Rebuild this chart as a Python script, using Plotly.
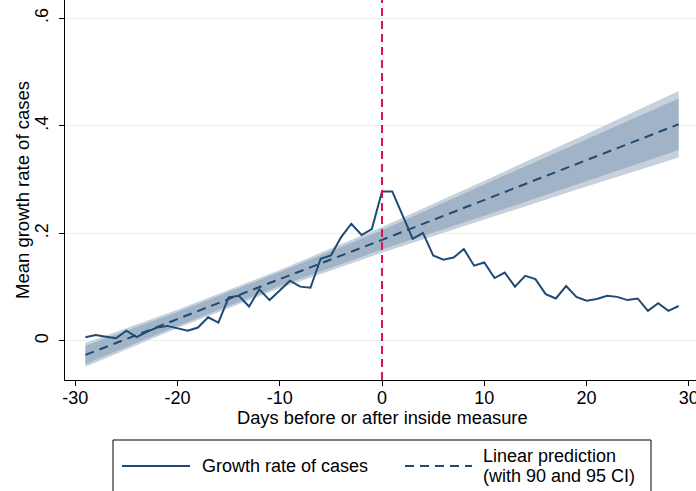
import plotly.graph_objects as go

# Days relative to the inside measure and mean growth rate of cases
days = list(range(-29, 30))
growth = [
    0.007, 0.011, 0.008, 0.005, 0.019, 0.007, 0.017, 0.025, 0.028, 0.024,
    0.019, 0.025, 0.044, 0.034, 0.081, 0.084, 0.064, 0.096, 0.076, 0.094,
    0.112, 0.101, 0.099, 0.153, 0.159, 0.193, 0.218, 0.197, 0.208, 0.278,
    0.278, 0.234, 0.190, 0.201, 0.159, 0.151, 0.155, 0.171, 0.140, 0.146,
    0.117, 0.127, 0.101, 0.121, 0.115, 0.087, 0.079, 0.102, 0.082, 0.075,
    0.078, 0.084, 0.082, 0.076, 0.079, 0.056, 0.070, 0.056, 0.065,
]

# Linear prediction with 90% and 95% confidence bounds
fit_days = [-29, -20, -10, 0, 10, 20, 29]
fit_mid = [-0.026, 0.041, 0.115, 0.188, 0.262, 0.336, 0.403]
ci95_lo = [-0.048, 0.024, 0.098, 0.164, 0.226, 0.287, 0.341]
ci95_hi = [-0.004, 0.058, 0.132, 0.212, 0.298, 0.385, 0.465]
ci90_lo = [-0.043, 0.028, 0.102, 0.170, 0.233, 0.297, 0.355]
ci90_hi = [-0.009, 0.054, 0.128, 0.206, 0.291, 0.375, 0.451]

x_ticks = [-30, -20, -10, 0, 10, 20, 30]
x_tick_text = ["-30", "-20", "-10", "0", "10", "20", "30"]
y_ticks = [0, 0.2, 0.4, 0.6]
y_tick_text = ["0", ".2", ".4", ".6"]

x_title = "Days before or after inside measure"
y_title = "Mean growth rate of cases"
legend_growth = "Growth rate of cases"
legend_fit = ["Linear prediction", "(with 90 and 95 CI)"]

NAVY = "#1f4a73"
FONT = "Liberation Sans, Arial, sans-serif"
FS = 18

W, H = 696, 491
ML, MR, MT, MB = 65, 0, 0, 111
PW, PH = W - ML - MR, H - MT - MB

fig = go.Figure()

def band(lo, hi, color):
    fig.add_trace(go.Scatter(
        x=fit_days + fit_days[::-1], y=hi + lo[::-1],
        fill="toself", fillcolor=color, mode="lines",
        line=dict(width=0), hoverinfo="skip", showlegend=False,
    ))

band(ci95_lo, ci95_hi, "#c6d1dc")
band(ci90_lo, ci90_hi, "#a1b4c7")

fig.add_trace(go.Scatter(
    x=days, y=growth, mode="lines", name=legend_growth,
    line=dict(color=NAVY, width=2), showlegend=False,
))
fig.add_trace(go.Scatter(
    x=fit_days, y=fit_mid, mode="lines", name=" ".join(legend_fit),
    line=dict(color=NAVY, width=2, dash="9px,6px"), showlegend=False,
))

# Day the inside measure starts
fig.add_shape(type="line", xref="x", yref="paper", x0=0, x1=0, y0=0, y1=1,
              line=dict(color="#d8134a", width=2, dash="8px,5px"))


# Helpers to place items in pixels from the figure's top-left
def px_x(px):
    return (px - ML) / PW


def px_y(py):
    return (H - MB - py) / PH


def text_at(text, px, py, xanchor="left", angle=0, size=FS):
    fig.add_annotation(xref="paper", yref="paper", x=px_x(px), y=px_y(py),
                       text=text, showarrow=False, xanchor=xanchor,
                       yanchor="middle", align="left", textangle=angle,
                       font=dict(size=size), borderpad=0)


# Axis titles
text_at(x_title, 382, 417, xanchor="center", size=18.3)
text_at(y_title, 22, 190, xanchor="center", angle=-90, size=18.5)

# Legend box below the plot
fig.add_shape(type="rect", xref="paper", yref="paper",
              x0=px_x(113), x1=px_x(651), y0=px_y(440), y1=px_y(495),
              line=dict(color="black", width=1), fillcolor="white")
fig.add_shape(type="line", xref="paper", yref="paper",
              x0=px_x(122), x1=px_x(190), y0=px_y(466), y1=px_y(466),
              line=dict(color=NAVY, width=2))
fig.add_shape(type="line", xref="paper", yref="paper",
              x0=px_x(405), x1=px_x(472), y0=px_y(466), y1=px_y(466),
              line=dict(color=NAVY, width=2, dash="9px,6px"))
text_at(legend_growth, 201, 466)
text_at(legend_fit[0], 482, 456)
text_at(legend_fit[1], 482, 476)

fig.update_layout(
    width=W, height=H,
    margin=dict(l=ML, r=MR, t=MT, b=MB),
    paper_bgcolor="white", plot_bgcolor="white",
    font=dict(family=FONT, size=FS, color="black"),
    showlegend=False,
    xaxis=dict(
        range=[-31.0, 30.7], tickvals=x_ticks, ticktext=x_tick_text,
        ticks="outside", ticklen=5,
        tickcolor="black", showline=True, linecolor="black", linewidth=1,
        showgrid=False, zeroline=False, automargin=False,
        ticklabeloverflow="allow", ticklabelstandoff=-4,
    ),
    yaxis=dict(
        range=[-0.0726, 0.634], tickvals=y_ticks, ticktext=y_tick_text,
        tickangle=-90, ticks="outside", ticklen=5, tickcolor="black",
        showline=True, linecolor="black", linewidth=1, automargin=False,
        showgrid=True, gridcolor="#e8eff1", gridwidth=1, zeroline=False,
        ticklabeloverflow="allow", ticklabelstandoff=4,
    ),
)

fig.write_html("out.html")
